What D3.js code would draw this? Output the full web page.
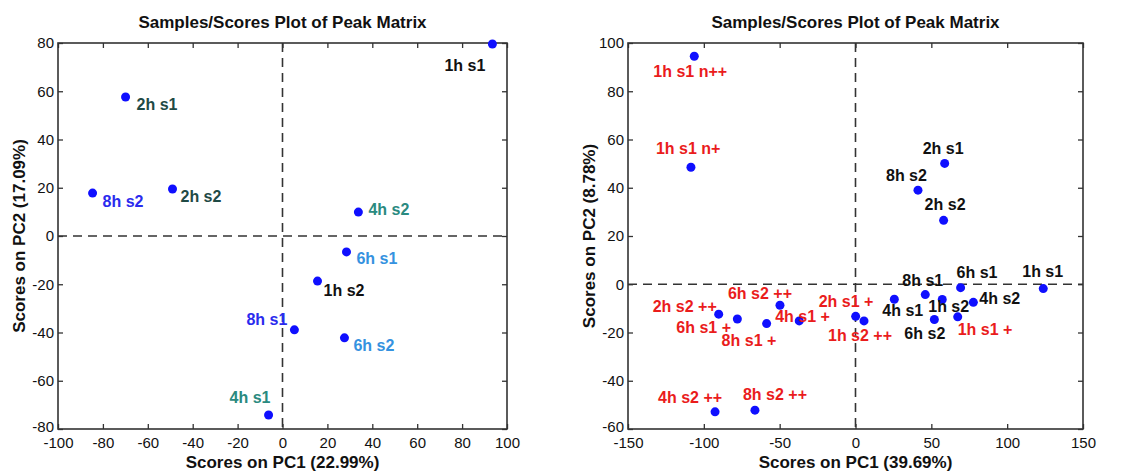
<!DOCTYPE html>
<html>
<head>
<meta charset="utf-8">
<script src="https://cdn.jsdelivr.net/npm/d3@7"></script>
<style>
  body { margin: 0; background: #fff; }
  svg { display: block; font-family: "Liberation Sans", Arial, sans-serif; }
</style>
</head>
<body>
<svg id="chart" width="1132" height="471"></svg>
<script>
// ---- data ----
const title = "Samples/Scores Plot of Peak Matrix";

const leftNames = ["1h s1", "2h s1", "2h s2", "8h s2", "4h s2", "6h s1", "1h s2", "8h s1", "6h s2", "4h s1"];
const leftPC1   = [93.5, -69.9, -49.0, -84.6, 33.8, 28.5, 15.6, 5.3, 27.6, -6.2];
const leftPC2   = [79.6, 57.6, 19.5, 17.8, 9.9, -6.6, -18.7, -38.9, -42.2, -74.2];
const leftXTicks = [-100, -80, -60, -40, -20, 0, 20, 40, 60, 80, 100];
const leftYTicks = [-80, -60, -40, -20, 0, 20, 40, 60, 80];

const rightNames = ["1h s1 n++", "1h s1 n+", "2h s1", "8h s2", "2h s2",
  "2h s2 ++", "6h s1 +", "8h s1 +", "6h s2 ++", "4h s1 +", "2h s1 +", "1h s2 ++",
  "4h s1", "8h s1", "1h s2", "6h s2", "6h s1", "4h s2", "1h s1 +", "1h s1",
  "4h s2 ++", "8h s2 ++"];
const rightPC1 = [-106.3, -108.5, 58.8, 41.2, 58.1,
  -90.2, -77.9, -58.6, -49.8, -37.1, 0.1, 5.6,
  25.6, 46.0, 57.2, 52.0, 69.3, 77.7, 67.4, 123.8,
  -92.6, -66.3];
const rightPC2 = [94.5, 48.5, 50.1, 39.0, 26.5,
  -12.4, -14.4, -16.3, -8.7, -15.2, -13.3, -15.2,
  -6.2, -4.3, -6.3, -14.6, -1.4, -7.5, -13.5, -1.8,
  -52.9, -52.2];
const rightXTicks = [-150, -100, -50, 0, 50, 100, 150];
const rightYTicks = [-60, -40, -20, 0, 20, 40, 60, 80, 100];

// ---- styling / layout (not data) ----
const timeColor = { "1h": "#111111", "2h": "#1f4a45", "4h": "#2a8a80", "6h": "#3592e0", "8h": "#2b2bee" };
const leftLabelOffset = [[-48, 21], [11, 7], [8, 7], [10, 8], [10, -3], [10, 6], [6, 9], [-48, -10], [9, 8], [-39, -18]];
const rightLabelOffset = [[-41, 15], [-35, -19], [-22, -15], [-32, -15], [-19, -16],
  [-66, -8], [-61, 8], [-45, 17], [-52, -12], [-24, -5], [-37, -15], [-36, 14],
  [-12, 11], [-23, -14], [-14, 7], [-30, 14], [-4, -15], [6, -4], [0, 13], [-21, -17],
  [-57, -14], [-12, -16]];

const svg = d3.select("#chart");
const plain = d => String(d); // hyphen minus like the original

function panel(cfg) {
  const x = d3.scaleLinear().domain(cfg.xDomain).range([cfg.x0, cfg.x1]);
  const y = d3.scaleLinear().domain(cfg.yDomain).range([cfg.y1, cfg.y0]);
  const g = svg.append("g");

  // zero lines
  g.append("line")
    .attr("x1", x(0)).attr("x2", x(0)).attr("y1", cfg.y0).attr("y2", cfg.y1)
    .attr("stroke", "#333").attr("stroke-width", 1.6).attr("stroke-dasharray", "9,6");
  g.append("line")
    .attr("x1", cfg.x0).attr("x2", cfg.x1).attr("y1", y(0)).attr("y2", y(0))
    .attr("stroke", "#333").attr("stroke-width", 1.6).attr("stroke-dasharray", "9,6");

  const styleAxis = a => {
    a.select(".domain").remove();
    a.selectAll(".tick line").attr("stroke", "#333").attr("stroke-width", 1.3);
    a.selectAll(".tick text").attr("fill", "#111").style("font-size", "15px")
      .style("font-family", "'Liberation Sans', Arial, sans-serif");
  };

  g.append("g").attr("transform", `translate(0,${cfg.y1})`)
    .call(d3.axisBottom(x).tickValues(cfg.xTicks).tickFormat(plain).tickSizeInner(-5).tickSizeOuter(0).tickPadding(8))
    .call(styleAxis);
  g.append("g").attr("transform", `translate(0,${cfg.y0})`)
    .call(d3.axisTop(x).tickValues(cfg.xTicks).tickSizeInner(-5).tickSizeOuter(0).tickFormat(""))
    .call(styleAxis);
  g.append("g").attr("transform", `translate(${cfg.x0},0)`)
    .call(d3.axisLeft(y).tickValues(cfg.yTicks).tickFormat(plain).tickSizeInner(-5).tickSizeOuter(0).tickPadding(4))
    .call(styleAxis)
    .call(a => a.selectAll(".tick text").filter(d => d === cfg.yDomain[0]).attr("dy", "0.15em"));
  g.append("g").attr("transform", `translate(${cfg.x1},0)`)
    .call(d3.axisRight(y).tickValues(cfg.yTicks).tickSizeInner(-5).tickSizeOuter(0).tickFormat(""))
    .call(styleAxis);

  // frame
  g.append("rect")
    .attr("x", cfg.x0).attr("y", cfg.y0)
    .attr("width", cfg.x1 - cfg.x0).attr("height", cfg.y1 - cfg.y0)
    .attr("fill", "none").attr("stroke", "#333").attr("stroke-width", 1.6);

  // title and axis labels
  g.append("text")
    .attr("x", (cfg.x0 + cfg.x1) / 2).attr("y", 28)
    .attr("text-anchor", "middle").style("font-size", "17px").style("font-weight", "bold")
    .attr("fill", "#111").text(title);
  g.append("text")
    .attr("x", (cfg.x0 + cfg.x1) / 2).attr("y", 468)
    .attr("text-anchor", "middle").style("font-size", "17px").style("font-weight", "bold")
    .attr("fill", "#111").text(cfg.xLabel);
  g.append("text")
    .attr("transform", `translate(${cfg.yLabelX},${(cfg.y0 + cfg.y1) / 2}) rotate(-90)`)
    .attr("text-anchor", "middle").attr("dy", "0.35em")
    .style("font-size", "17px").style("font-weight", "bold")
    .attr("fill", "#111").text(cfg.yLabel);

  const pts = cfg.names.map((n, i) => ({ name: n, x: cfg.pc1[i], y: cfg.pc2[i], off: cfg.offsets[i], color: cfg.colors[i] }));

  g.append("g").selectAll("circle")
    .data(pts).join("circle")
    .attr("cx", d => x(d.x)).attr("cy", d => y(d.y))
    .attr("r", 4.5).attr("fill", "#0f0fff");

  g.append("g").selectAll("text")
    .data(pts).join("text")
    .attr("x", d => x(d.x) + d.off[0]).attr("y", d => y(d.y) + d.off[1])
    .attr("dy", "0.35em")
    .style("font-size", "16px").style("font-weight", "bold")
    .attr("fill", d => d.color)
    .text(d => d.name);
}

panel({
  x0: 58, x1: 507, y0: 43, y1: 429,
  xDomain: [-100, 100], yDomain: [-80, 80],
  xTicks: leftXTicks, yTicks: leftYTicks,
  names: leftNames, pc1: leftPC1, pc2: leftPC2,
  offsets: leftLabelOffset,
  colors: leftNames.map(n => timeColor[n.slice(0, 2)]),
  xLabel: "Scores on PC1 (22.99%)", yLabel: "Scores on PC2 (17.09%)", yLabelX: 19
});

panel({
  x0: 628, x1: 1083, y0: 43, y1: 429,
  xDomain: [-150, 150], yDomain: [-60, 100],
  xTicks: rightXTicks, yTicks: rightYTicks,
  names: rightNames, pc1: rightPC1, pc2: rightPC2,
  offsets: rightLabelOffset,
  colors: rightNames.map(n => n.includes("+") ? "#ea1c1c" : "#111111"),
  xLabel: "Scores on PC1 (39.69%)", yLabel: "Scores on PC2 (8.78%)", yLabelX: 589
});
</script>
</body>
</html>
